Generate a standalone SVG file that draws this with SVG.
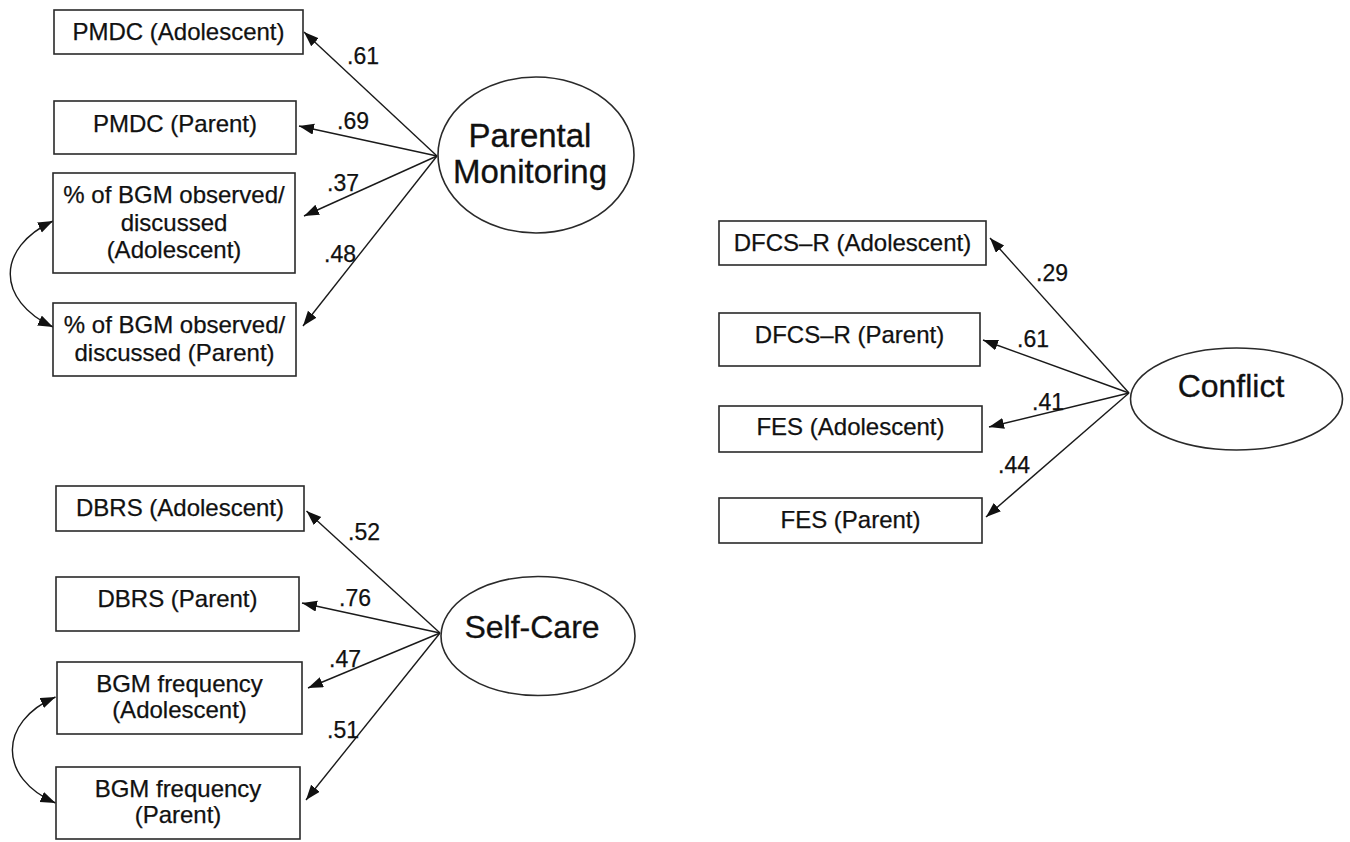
<svg xmlns="http://www.w3.org/2000/svg" width="1350" height="842" viewBox="0 0 1350 842">
<style>
.box{fill:#fff;stroke:#2a2a2a;stroke-width:1.6}
.lat{fill:#fff;stroke:#2a2a2a;stroke-width:1.6}
.t{font-family:"Liberation Sans",Arial,sans-serif;font-size:24px;fill:#111;text-anchor:middle;stroke:#111;stroke-width:0.25}
.lt{font-family:"Liberation Sans",Arial,sans-serif;font-size:33px;fill:#111;text-anchor:middle;stroke:#111;stroke-width:0.3}
.lb{font-family:"Liberation Sans",Arial,sans-serif;font-size:23px;fill:#111;stroke:#111;stroke-width:0.25}
.c{fill:none;stroke:#1a1a1a;stroke-width:1.4;marker-end:url(#ah)}
.cv{fill:none;stroke:#1a1a1a;stroke-width:1.4;marker-start:url(#ah2);marker-end:url(#ah)}
</style>
<defs>
<marker id="ah" markerUnits="userSpaceOnUse" markerWidth="16" markerHeight="12" refX="15" refY="5.5" orient="auto" viewBox="0 0 16 12"><path d="M0,0 L15,5.5 L0,11 z" fill="#111"/></marker>
<marker id="ah2" markerUnits="userSpaceOnUse" markerWidth="16" markerHeight="12" refX="15" refY="5.5" orient="auto-start-reverse" viewBox="0 0 16 12"><path d="M0,0 L15,5.5 L0,11 z" fill="#111"/></marker>
</defs>
<rect width="1350" height="842" fill="#fff"/>
<g id="connectors">
<line class="c" x1="437" y1="156" x2="304" y2="32"/>
<line class="c" x1="437" y1="156" x2="299" y2="126"/>
<line class="c" x1="437" y1="156" x2="304" y2="216"/>
<line class="c" x1="437" y1="156" x2="303" y2="326"/>
<path class="cv" d="M53,221 C-4,248 -4,300 53,327"/>
<line class="c" x1="440" y1="633" x2="306.5" y2="511"/>
<line class="c" x1="440" y1="633" x2="302" y2="603"/>
<line class="c" x1="440" y1="633" x2="308" y2="688"/>
<line class="c" x1="440" y1="633" x2="306" y2="800"/>
<path class="cv" d="M55.5,697 C-2,722 -2,778 55.5,803"/>
<line class="c" x1="1129" y1="393" x2="990" y2="238"/>
<line class="c" x1="1129" y1="393" x2="983" y2="340"/>
<line class="c" x1="1129" y1="393" x2="989" y2="427"/>
<line class="c" x1="1129" y1="393" x2="986" y2="517"/>
<text class="lb" x="347" y="64">.61</text>
<text class="lb" x="337" y="129">.69</text>
<text class="lb" x="327" y="191">.37</text>
<text class="lb" x="324" y="262">.48</text>
<text class="lb" x="348" y="540">.52</text>
<text class="lb" x="339" y="606">.76</text>
<text class="lb" x="329" y="667">.47</text>
<text class="lb" x="327" y="738">.51</text>
<text class="lb" x="1036" y="281">.29</text>
<text class="lb" x="1017" y="347">.61</text>
<text class="lb" x="1032" y="410">.41</text>
<text class="lb" x="998" y="473">.44</text>
</g>
<g id="pm"><ellipse class="lat" cx="536" cy="155" rx="98" ry="78"/><text class="lt" x="530" y="147">Parental</text><text class="lt" x="530" y="183">Monitoring</text></g>
<g id="pmdc_adol"><rect class="box" x="54" y="10" width="249" height="44"/><text class="t" x="178.5" y="40">PMDC (Adolescent)</text></g>
<g id="pmdc_par"><rect class="box" x="54" y="101" width="242" height="53"/><text class="t" x="175" y="132">PMDC (Parent)</text></g>
<g id="bgm_obs_adol"><rect class="box" x="53" y="173" width="242" height="100"/><text class="t" x="174" y="203">% of BGM observed/</text><text class="t" x="174" y="231">discussed</text><text class="t" x="174" y="258">(Adolescent)</text></g>
<g id="bgm_obs_par"><rect class="box" x="53" y="303" width="243" height="73"/><text class="t" x="174.5" y="333">% of BGM observed/</text><text class="t" x="174.5" y="361">discussed (Parent)</text></g>
<g id="sc"><ellipse class="lat" cx="538" cy="636" rx="97" ry="59.5"/><text class="lt" x="532" y="638" style="font-size:32px">Self-Care</text></g>
<g id="dbrs_adol"><rect class="box" x="56" y="486" width="248" height="45"/><text class="t" x="180" y="516">DBRS (Adolescent)</text></g>
<g id="dbrs_par"><rect class="box" x="56" y="577" width="243" height="54"/><text class="t" x="177.5" y="607">DBRS (Parent)</text></g>
<g id="bgm_freq_adol"><rect class="box" x="57" y="662" width="245" height="72"/><text class="t" x="179.5" y="692">BGM frequency</text><text class="t" x="179.5" y="718">(Adolescent)</text></g>
<g id="bgm_freq_par"><rect class="box" x="56" y="767" width="244" height="72"/><text class="t" x="178" y="797">BGM frequency</text><text class="t" x="178" y="823">(Parent)</text></g>
<g id="conflict"><ellipse class="lat" cx="1236.5" cy="399" rx="106" ry="51"/><text class="lt" x="1231" y="397" style="font-size:32px">Conflict</text></g>
<g id="dfcs_adol"><rect class="box" x="719" y="221" width="267" height="44"/><text class="t" x="852.5" y="251">DFCS–R (Adolescent)</text></g>
<g id="dfcs_par"><rect class="box" x="719" y="313" width="261" height="53"/><text class="t" x="849.5" y="343">DFCS–R (Parent)</text></g>
<g id="fes_adol"><rect class="box" x="719" y="406" width="263" height="46"/><text class="t" x="850.5" y="435">FES (Adolescent)</text></g>
<g id="fes_par"><rect class="box" x="719" y="498" width="263" height="45"/><text class="t" x="850.5" y="528">FES (Parent)</text></g>
</svg>
